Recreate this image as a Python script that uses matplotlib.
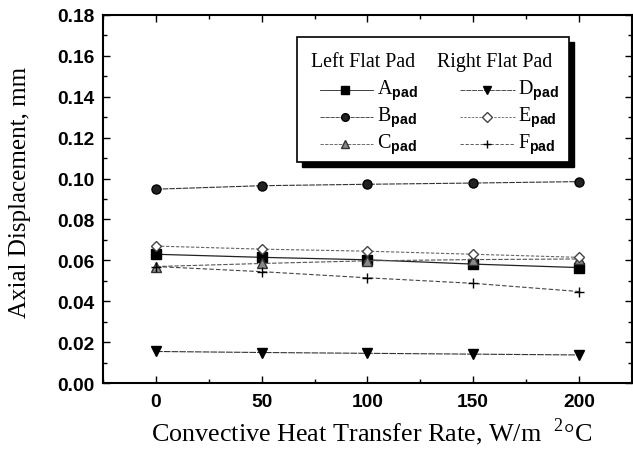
import numpy as np
import matplotlib
matplotlib.use('Agg')
from matplotlib import pyplot as plt
from matplotlib.lines import Line2D
from matplotlib.patches import Rectangle
from matplotlib.ticker import MultipleLocator

plt.rcParams['font.family'] = 'Liberation Serif'
plt.rcParams['mathtext.fontset'] = 'custom'
plt.rcParams['mathtext.rm'] = 'Liberation Serif'
plt.rcParams['mathtext.bf'] = 'Liberation Sans:bold'

# convective heat transfer rate, W/m2 C
h = [0, 50, 100, 150, 200]

# axial displacement, mm
a_pad = [0.0630, 0.0615, 0.0603, 0.0582, 0.0565]
b_pad = [0.0948, 0.0965, 0.0972, 0.0978, 0.0985]
c_pad = [0.0570, 0.0585, 0.0598, 0.0604, 0.0607]
d_pad = [0.0155, 0.0150, 0.0146, 0.0142, 0.0138]
e_pad = [0.0670, 0.0655, 0.0645, 0.0630, 0.0615]
f_pad = [0.0570, 0.0545, 0.0515, 0.0488, 0.0448]

names = ['A', 'B', 'C', 'D', 'E', 'F']
series = [a_pad, b_pad, c_pad, d_pad, e_pad, f_pad]
styles = [
    dict(ls='-', marker='s', mfc='black', mec='black', ms=6.5, color='#222222', lw=0.9),
    dict(ls=(0, (5, 1)), marker='o', mfc='#222222', mec='black', ms=6.5, color='#333333', lw=0.8),
    dict(ls=(0, (4, 1.5)), marker='^', mfc='#888888', mec='#333333', ms=6.5, color='#555555', lw=0.8),
    dict(ls=(0, (6, 1)), marker='v', mfc='black', mec='black', ms=7, color='#333333', lw=0.8),
    dict(ls=(0, (3, 1.5)), marker='D', mfc='white', mec='#444444', ms=5.5, color='#666666', lw=0.8),
    dict(ls=(0, (4, 2)), marker='+', mfc='black', mec='black', ms=7, mew=1.0, color='#444444', lw=0.8),
]

fig = plt.figure(figsize=(6.33, 4.52), dpi=100)
ax = fig.add_axes([0.163, 0.150, 0.835, 0.815])

for y, st in zip(series, styles):
    ax.plot(h, y, **st)

ax.set_xlim(-25, 225)
ax.set_ylim(0, 0.18)
ax.xaxis.set_major_locator(MultipleLocator(50))
ax.xaxis.set_minor_locator(MultipleLocator(25))
ax.yaxis.set_major_locator(MultipleLocator(0.02))
ax.yaxis.set_minor_locator(MultipleLocator(0.01))
ax.yaxis.set_major_formatter(matplotlib.ticker.FormatStrFormatter('%.2f'))
ax.tick_params(which='both', direction='in', top=True, right=True, width=1.0)
ax.tick_params(which='major', length=5)
ax.tick_params(which='minor', length=3)
ax.tick_params(axis='x', pad=7)
ax.tick_params(axis='y', pad=6)
for lab in ax.get_xticklabels() + ax.get_yticklabels():
    lab.set_family('Liberation Sans')
    lab.set_fontweight('bold')
    lab.set_fontsize(13.8)
for s in ax.spines.values():
    s.set_linewidth(1.5)

ax.set_ylabel('Axial Displacement, mm', fontsize=18)
ax.set_xlabel('Convective Heat Transfer Rate, W/m  $^{2}$\u00b0C', fontsize=18.8)
ax.yaxis.set_label_coords(-0.157, 0.52)
ax.yaxis.label.set_va('center')
ax.xaxis.set_label_coords(0.508, -0.13)
ax.xaxis.label.set_va('center')

# legend box with shadow
tr = ax.transAxes
x0, x1, yb, yt = 0.367, 0.881, 0.601, 0.940
dx, dy = 0.009, 0.013
ax.add_patch(Rectangle((x0 + dx, yb - dy), x1 - x0, yt - yb, transform=tr,
                       facecolor='black', edgecolor='black', zorder=5, clip_on=False))
ax.add_patch(Rectangle((x0, yb), x1 - x0, yt - yb, transform=tr,
                       facecolor='white', edgecolor='black', lw=1.2, zorder=6, clip_on=False))
ax.text(0.491, 0.873, 'Left Flat Pad', transform=tr, ha='center', va='center',
        fontsize=14.3, zorder=7)
ax.text(0.741, 0.873, 'Right Flat Pad', transform=tr, ha='center', va='center',
        fontsize=14.3, zorder=7)
rows = [0.796, 0.723, 0.649]
cols = [(0.410, 0.510, 0.457, 0.518), (0.675, 0.779, 0.726, 0.784)]
for i, (name, st) in enumerate(zip(names, styles)):
    lx0, lx1, mx, tx = cols[i // 3]
    ry = rows[i % 3]
    line_st = {k: v for k, v in st.items() if not k.startswith('m')}
    line_st['lw'] = 0.6
    ax.add_line(Line2D([lx0, lx1], [ry, ry], transform=tr, zorder=7, **line_st))
    mk = {k: v for k, v in st.items() if k.startswith('m')}
    mk['ms'] = mk['ms'] * 0.85
    ax.add_line(Line2D([mx], [ry], transform=tr, ls='none', zorder=8, **mk))
    ax.text(tx, ry, name + r'$_{\mathbf{pad}}$', transform=tr, ha='left', va='center',
            fontsize=14.5, zorder=7)

fig.savefig('out.png', dpi=100)
